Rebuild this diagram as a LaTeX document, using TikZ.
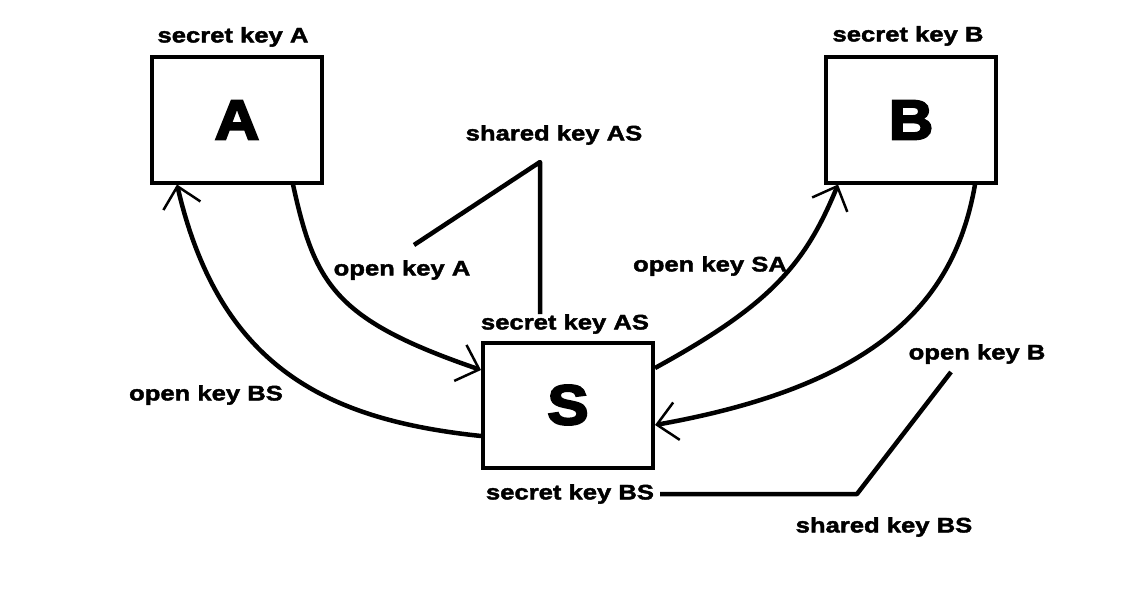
\documentclass[tikz,border=0pt]{standalone}
\usepackage{fontspec}
\setmainfont{Liberation Sans}[FakeStretch=1.22,BoldFeatures={FakeBold=2}]
\newfontfamily\bigfont{Liberation Sans}[FakeStretch=1.1,BoldFeatures={FakeBold=4}]
\usetikzlibrary{arrows.meta,calc}
\begin{document}
\begin{tikzpicture}[x=1pt,y=-1pt,
  box/.style={draw,line width=4pt,minimum width=170pt,minimum height=125pt,inner sep=0pt,font=\bigfont\bfseries\fontsize{56}{60}\selectfont},
  lbl/.style={font=\bfseries\fontsize{21}{23}\selectfont,inner sep=0pt},
  conn/.style={line width=4.5pt},
  arr/.style={line width=4.5pt,-{Straight Barb[length=20pt,width=38pt,line width=2.5pt]}}]
\useasboundingbox (0,0) rectangle (1146,602);
\fill[white] (0,0) rectangle (1146,602);
\node[box] (A) at (237,120) {A};
\node[box] (B) at (911,120) {B};
\node[box] (S) at (568,405) {S};
\node[lbl] (skA) at (233,37) {secret key A};
\node[lbl] (skB) at (908,36) {secret key B};
\node[lbl] (shAS) at (554,135) {shared key AS};
\node[lbl] (okA) at (402,270) {open key A};
\node[lbl] (skAS) at (565,324) {secret key AS};
\node[lbl] (okSA) at (710,266) {open key SA};
\node[lbl] (okB) at (977,354) {open key B};
\node[lbl] (okBS) at (206,395) {open key BS};
\node[lbl] (skBS) at (570,494) {secret key BS};
\node[lbl] (shBS) at (884,527) {shared key BS};
% shared key AS lines
\coordinate (p1) at (414,245);
\coordinate (p2) at (540,162);
\draw[conn,line join=round] (p1) -- (p2) -- (skAS.north -| p2);
% shared key BS lines
\coordinate (q1) at (857,494);
\coordinate (q2) at (951,372);
\draw[conn,line join=round] (skBS.east) ++(6,0) -- (q1) -- (q2);
% curves
\draw[arr] ([xshift=56pt]A.south) .. controls (315,285) and (335,320) .. ([yshift=35pt]S.west);
\draw[arr] ([yshift=-31pt]S.west) .. controls (330,420) and (220,370) .. ([xshift=-60pt]A.south);
\draw[arr] ([yshift=37pt]S.east) .. controls (770,305) and (805,265) .. ([xshift=-73pt]B.south);
\draw[arr] ([xshift=64pt]B.south) .. controls (955,300) and (880,385) .. ([yshift=-20pt]S.east);
\end{tikzpicture}
\end{document}
